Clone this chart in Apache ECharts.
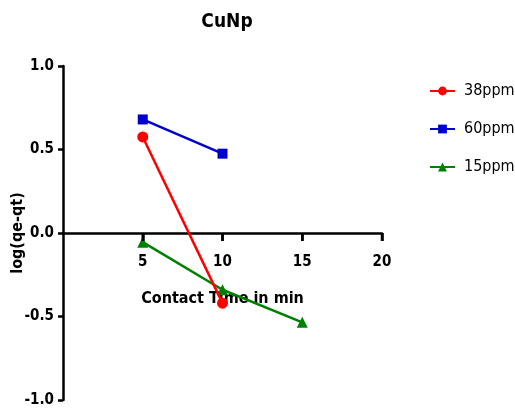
<!DOCTYPE html>
<html>
<head>
<meta charset="utf-8">
<script src="https://cdn.jsdelivr.net/npm/echarts@6/dist/echarts.min.js"></script>
<style>
  html, body { margin: 0; padding: 0; background: #fff; }
  #chart { width: 515px; height: 411px; }
</style>
</head>
<body>
<div id="chart"></div>
<script>
// Pseudo-first-order kinetics for CuNp at three concentrations
const seriesNames = ['38ppm', '60ppm', '15ppm'];
const contactTime38 = [5, 10];
const logQ38 = [0.575, -0.42];
const contactTime60 = [5, 10];
const logQ60 = [0.68, 0.475];
const contactTime15 = [5, 10, 15];
const logQ15 = [-0.055, -0.34, -0.535];
const xTicks = [5, 10, 15, 20];
const yTicks = [-1.0, -0.5, 0.0, 0.5, 1.0];

const colors = ['#ff0000', '#0000cc', '#008000'];
const symbols = ['circle', 'rect', 'triangle'];
const FONT = '"DejaVu Sans Condensed", "Liberation Sans", Arial, sans-serif';

const GRID_TOP = 66, GRID_BOTTOM = 11, CHART_H = 411;
// the x axis sits on y = 0, i.e. halfway down the -1..1 plot area
const plotH = CHART_H - GRID_TOP - GRID_BOTTOM;
const xAxisOffset = -plotH / 2;
const TICK_LEN = 8;

function pairs(xs, ys) { return xs.map((x, i) => [x, ys[i]]); }
const dataSets = [
  pairs(contactTime38, logQ38),
  pairs(contactTime60, logQ60),
  pairs(contactTime15, logQ15)
];

const chart = echarts.init(document.getElementById('chart'), null, { renderer: 'canvas' });
chart.setOption({
  animation: false,
  backgroundColor: '#ffffff',
  title: {
    text: 'CuNp',
    left: 222, top: 8, textAlign: 'center',
    textStyle: { fontFamily: FONT, fontWeight: 'bold', fontSize: 19, color: '#000' }
  },
  legend: {
    orient: 'vertical',
    left: 424, top: 78,
    itemWidth: 25, itemHeight: 11, itemGap: 22,
    data: seriesNames,
    textStyle: { fontFamily: FONT, fontSize: 16, color: '#000', padding: [0, 0, 0, 4] }
  },
  grid: { left: 63, right: 133, top: GRID_TOP, bottom: GRID_BOTTOM, containLabel: false, outerBoundsMode: 'none' },
  xAxis: {
    type: 'value', min: 0, max: 20, interval: 5,
    position: 'bottom',
    offset: xAxisOffset,
    axisLine: { onZero: false, lineStyle: { color: '#000', width: 2.5 } },
    axisTick: { show: true, length: TICK_LEN, inside: false, lineStyle: { color: '#000', width: 2.5 } },
    axisLabel: {
      showMinLabel: false, margin: 22,
      formatter: v => xTicks.includes(v) ? String(v) : '',
      fontFamily: FONT, fontWeight: 'bold', fontSize: 15, color: '#000'
    },
    splitLine: { show: false },
    name: 'Contact Time in min',
    nameLocation: 'middle', nameGap: 58, nameMoveOverlap: false,
    nameTextStyle: { fontFamily: FONT, fontWeight: 'bold', fontSize: 16, color: '#000' }
  },
  yAxis: {
    type: 'value', min: -1, max: 1, interval: 0.5,
    axisLine: { show: true, onZero: false, lineStyle: { color: '#000', width: 2.5 } },
    axisTick: { show: true, length: 5, lineStyle: { color: '#000', width: 2.5 } },
    axisLabel: {
      margin: 9,
      formatter: v => yTicks.includes(v) ? v.toFixed(1) : '',
      fontFamily: FONT, fontWeight: 'bold', fontSize: 15, color: '#000'
    },
    splitLine: { show: false },
    name: 'log(qe-qt)',
    nameLocation: 'middle', nameGap: 37, nameRotate: 90, nameMoveOverlap: false,
    nameTextStyle: { fontFamily: FONT, fontWeight: 'bold', fontSize: 16, color: '#000' }
  },
  series: seriesNames.map((name, i) => ({
    name,
    type: 'line',
    data: dataSets[i],
    symbol: symbols[i],
    symbolSize: i === 1 ? 10 : 11,
    showAllSymbol: true,
    clip: false,
    itemStyle: { color: colors[i] },
    lineStyle: { color: colors[i], width: 2.5 },
    z: 3 - i
  }))
});

// downward tick marks on the y = 0 axis line, placed through the grid's own scales
const tickMarks = xTicks.map(x => {
  const p = chart.convertToPixel({ gridIndex: 0 }, [x, 0]);
  return {
    type: 'line',
    silent: true,
    z: 10,
    shape: { x1: p[0], y1: p[1], x2: p[0], y2: p[1] + TICK_LEN },
    style: { stroke: '#000', lineWidth: 2.5 }
  };
});
chart.setOption({ graphic: { elements: tickMarks } });
</script>
</body>
</html>
